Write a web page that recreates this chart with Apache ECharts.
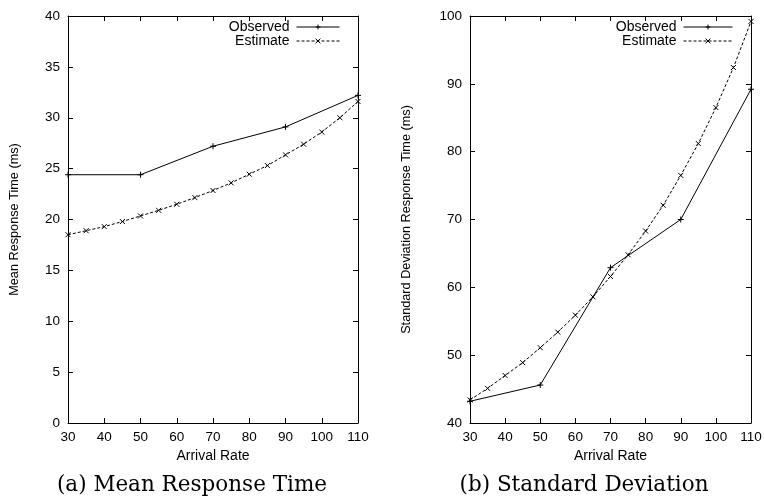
<!DOCTYPE html>
<html>
<head>
<meta charset="utf-8">
<script src="https://cdn.jsdelivr.net/npm/echarts@6/dist/echarts.min.js"></script>
<style>
html,body{margin:0;padding:0;background:#fff;}
#chart{width:764px;height:496px;}
</style>
</head>
<body>
<div id="chart"></div>
<script>
// ---- data ----
const xObserved = [30, 50, 70, 90, 110];
const xEstimate = [30, 35, 40, 45, 50, 55, 60, 65, 70, 75, 80, 85, 90, 95, 100, 105, 110];
const meanObserved = [24.4, 24.4, 27.2, 29.1, 32.2];
const meanEstimate = [18.5, 18.9, 19.3, 19.8, 20.35, 20.9, 21.5, 22.15, 22.85, 23.6, 24.45, 25.3, 26.35, 27.4, 28.6, 30.0, 31.6];
const sdObserved = [43.2, 45.6, 62.9, 70.0, 89.2];
const sdEstimate = [43.4, 45.1, 47.0, 48.9, 51.1, 53.4, 55.9, 58.6, 61.6, 64.8, 68.3, 72.1, 76.5, 81.2, 86.5, 92.4, 99.2];
const seriesNames = ['Observed', 'Estimate'];
const xAxisTitle = 'Arrival Rate';
const yTitles = ['Mean Response Time (ms)', 'Standard Deviation Response Time (ms)'];
const captions = ['(a) Mean Response Time', '(b) Standard Deviation'];

const SANS = '"Liberation Sans", Arial, Helvetica, sans-serif';
const pair = (xs, ys) => xs.map((x, i) => [x, ys[i]]);

const plusSym = 'path://M5,0L5,10M0,5L10,5';
const crossSym = 'path://M0,0L10,10M0,10L10,0';

function axisBase(show) {
  return {
    axisLine: {show: true, onZero: false, lineStyle: {color: '#000', width: 1}},
    axisTick: {show: true, inside: true, length: 5, lineStyle: {color: '#000', width: 1}},
    splitLine: {show: false},
    axisLabel: {show: show, color: '#000', fontFamily: SANS, fontSize: 13.5}
  };
}

const grids = [
  {left: 68, right: 406, top: 16, bottom: 73, outerBoundsMode: 'none'},
  {left: 470, right: 13, top: 16, bottom: 73, outerBoundsMode: 'none'}
];
const yRanges = [[0, 40, 5], [40, 100, 10]];
const yNameGaps = [47, 57];

const xAxes = [], yAxes = [];
[0, 1].forEach(g => {
  xAxes.push(Object.assign(axisBase(true), {
    type: 'value', gridIndex: g, position: 'bottom', min: 30, max: 110, interval: 10,
    name: xAxisTitle, nameLocation: 'middle', nameGap: 25,
    nameTextStyle: {color: '#000', fontFamily: SANS, fontSize: 14}
  }));
  xAxes[xAxes.length - 1].axisLabel.margin = 7;
  xAxes.push(Object.assign(axisBase(false), {
    type: 'value', gridIndex: g, position: 'top', min: 30, max: 110, interval: 10
  }));
  yAxes.push(Object.assign(axisBase(true), {
    type: 'value', gridIndex: g, position: 'left',
    min: yRanges[g][0], max: yRanges[g][1], interval: yRanges[g][2],
    name: yTitles[g], nameLocation: 'middle', nameGap: yNameGaps[g], nameRotate: 90,
    nameTextStyle: {color: '#000', fontFamily: SANS, fontSize: 12.7}
  }));
  yAxes[yAxes.length - 1].axisLabel.margin = 8;
  yAxes.push(Object.assign(axisBase(false), {
    type: 'value', gridIndex: g, position: 'right',
    min: yRanges[g][0], max: yRanges[g][1], interval: yRanges[g][2]
  }));
});

function mkSeries(g, name, data, dashed) {
  return {
    type: 'line', name: name, xAxisIndex: g * 2, yAxisIndex: g * 2,
    data: data, smooth: false, animation: false,
    symbol: dashed ? crossSym : plusSym, symbolSize: dashed ? 5 : 6,
    showAllSymbol: true,
    lineStyle: {color: '#000', width: 1, type: dashed ? [3, 2] : 'solid'},
    itemStyle: {color: '#000', borderColor: '#000', borderWidth: 1},
    emphasis: {disabled: true}
  };
}

const series = [
  mkSeries(0, seriesNames[0], pair(xObserved, meanObserved), false),
  mkSeries(0, seriesNames[1], pair(xEstimate, meanEstimate), true),
  mkSeries(1, seriesNames[0], pair(xObserved, sdObserved), false),
  mkSeries(1, seriesNames[1], pair(xEstimate, sdEstimate), true)
];

function mkLegend(right, width) {
  return {
    data: seriesNames, orient: 'vertical', align: 'right', right: right, top: 20,
    padding: 0, itemGap: 0, itemWidth: width, itemHeight: 6,
    selectedMode: false,
    lineStyle: {width: 1},
    itemStyle: {borderWidth: 1},
    textStyle: {color: '#000', fontFamily: SANS, fontSize: 14, lineHeight: 13, padding: [0, 2, 0, 0]}
  };
}

const chart = echarts.init(document.getElementById('chart'), null, {renderer: 'canvas'});
chart.setOption({
  animation: false,
  backgroundColor: '#fff',
  grid: grids,
  xAxis: xAxes,
  yAxis: yAxes,
  legend: [mkLegend(424, 43), mkLegend(31, 49)],
  series: series,
  graphic: [
    {type: 'text', x: 192, y: 474, style: {text: captions[0], fill: '#000', textAlign: 'center', font: '21.5px "DejaVu Serif", serif'}},
    {type: 'text', x: 584, y: 474, style: {text: captions[1], fill: '#000', textAlign: 'center', font: '21.5px "DejaVu Serif", serif'}}
  ]
});
</script>
</body>
</html>
